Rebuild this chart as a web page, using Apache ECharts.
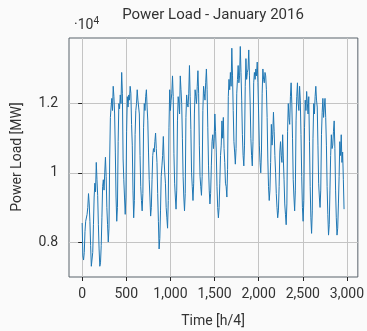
<!DOCTYPE html>
<html>
<head>
<meta charset="utf-8">
<script src="https://cdn.jsdelivr.net/npm/echarts@6/dist/echarts.min.js"></script>
<style>
  html, body { margin: 0; padding: 0; background: #fafafa; }
  #chart { width: 367px; height: 331px; }
</style>
</head>
<body>
<div id="chart"></div>
<script>
// one reading every 2 h = 8 quarter-hours, 12 per day
const stepQuarterHours = 8

// Jan 1 (holiday) - Jan 3
const loadJan01to03 = [
  8550, 7600, 7480, 7700, 8300, 8600, 8550, 8800, 9000, 9400, 9100, 8600,
  7900, 7300, 7350, 7700, 8500, 9300, 9700, 9450, 10300, 9800, 9350, 8500,
  7800, 7300, 7400, 7900, 8700, 9600, 9800, 9500, 10000, 10450, 9900, 9000
]
// Jan 4 - Jan 10
const loadJan04to10 = [
  8500, 8000, 8400, 10400, 11600, 11900, 12150, 11800, 12500, 12200, 11700, 10600,
  9300, 8600, 9000, 10900, 12000, 11850, 12250, 12000, 12900, 12300, 10400, 9800,
  9300, 8800, 9300, 11200, 12200, 11900, 12250, 12100, 12500, 12300, 11400, 10800,
  9500, 8700, 9200, 11100, 11800, 12000, 12400, 12100, 11900, 11700, 10500, 9600,
  9200, 8900, 9400, 11300, 12000, 11800, 12200, 12400, 11900, 11500, 10600, 9800,
  9300, 8750, 9000, 9800, 10500, 10700, 10600, 10900, 11150, 10700, 10300, 9400,
  8600, 7800, 8100, 8900, 9900, 10200, 10500, 11050, 10400, 10000, 9700, 9000
]
// Jan 11 - Jan 17
const loadJan11to17 = [
  8700, 8400, 9200, 11300, 12400, 11800, 12100, 12300, 12800, 12200, 10550, 9700,
  9300, 8950, 9500, 11500, 12200, 12000, 11700, 12800, 12400, 12000, 11000, 9900,
  9300, 8900, 9400, 11600, 12250, 12000, 11900, 12300, 13100, 12200, 11250, 10000,
  9600, 9200, 9700, 11700, 12400, 12200, 12000, 12500, 12950, 12300, 10800, 9900,
  9600, 9350, 9900, 11800, 12500, 12300, 12100, 12600, 13000, 12400, 11300, 10200,
  9500, 9100, 9400, 10200, 10900, 11100, 10700, 11000, 11700, 11200, 10600, 9600,
  9000, 8700, 9000, 9700, 10500, 10800, 11500, 11000, 11600, 10700, 10300, 9700
]
// Jan 18 - Jan 24
const loadJan18to24 = [
  9600, 9300, 10100, 12200, 12700, 12400, 12900, 12500, 13600, 12800, 11800, 10900,
  10600, 10250, 10700, 12300, 12700, 13100, 12600, 12800, 13650, 12900, 12100, 11100,
  10500, 10200, 10800, 12500, 13300, 12700, 12900, 13000, 13550, 12800, 12000, 11000,
  10500, 10200, 10900, 12600, 12900, 12700, 13000, 12800, 13200, 12600, 11700, 10800,
  10300, 10000, 10600, 12300, 13000, 12700, 12600, 12900, 12800, 12400, 11600, 10400,
  9600, 9200, 9500, 10300, 11400, 10800, 11100, 11750, 11200, 10500, 10000, 9400,
  9000, 8700, 8900, 9600, 10600, 10900, 10500, 10300, 11100, 10400, 9800, 9100
]
// Jan 25 - Jan 31
const loadJan25to31 = [
  8800, 8500, 9100, 11200, 12000, 11600, 11400, 12200, 12600, 12000, 11000, 9800,
  9300, 8900, 9500, 11500, 12200, 12600, 12000, 11800, 12500, 12100, 11100, 9900,
  9000, 8600, 9200, 11300, 12100, 11800, 12350, 12000, 11700, 12200, 10900, 9600,
  8700, 8250, 8900, 11000, 12000, 11700, 12200, 12500, 12100, 11900, 10800, 9700,
  9300, 9000, 9500, 11100, 11750, 12150, 11600, 11900, 12150, 11600, 10800, 9600,
  8800, 8200, 8500, 9500, 10500, 11100, 10700, 10800, 11200, 11500, 10700, 9500,
  8700, 8200, 8400, 9100, 9900, 10900, 10500, 11100, 10300, 10600, 9800, 8950
]

const xTicks = [0, 500, 1000, 1500, 2000, 2500, 3000]
const yTicks = [8000, 10000, 12000]

const loadMW = [].concat(loadJan01to03, loadJan04to10, loadJan11to17, loadJan18to24, loadJan25to31)
const seriesData = loadMW.map((v, i) => [i * stepQuarterHours, v])

const textColor = '#333'
const fontFamily = 'Roboto'

const chart = echarts.init(document.getElementById('chart'), null, { renderer: 'canvas' })
chart.setOption({
  animation: false,
  backgroundColor: '#fafafa',
  grid: {
    left: 69, right: 9, top: 38, bottom: 54,
    show: true,
    borderColor: '#59626a',
    borderWidth: 1,
    backgroundColor: 'transparent'
  },
  xAxis: {
    type: 'value',
    min: -149,
    max: 3124,
    minInterval: 500,
    maxInterval: 500,
    axisLine: { show: false },
    axisTick: { show: true, customValues: xTicks, length: 4, lineStyle: { color: '#222' } },
    axisLabel: {
      customValues: xTicks,
      margin: 10,
      color: textColor,
      fontFamily: fontFamily,
      fontSize: 14,
      formatter: v => v.toLocaleString('en-US')
    },
    splitLine: { show: true, lineStyle: { color: '#c4c4c4', width: 1 } }
  },
  yAxis: {
    type: 'value',
    min: 6990,
    max: 13895,
    minInterval: 2000,
    maxInterval: 2000,
    axisLine: { show: false },
    axisTick: { show: true, customValues: yTicks, length: 4, lineStyle: { color: '#222' } },
    axisLabel: {
      customValues: yTicks,
      margin: 11,
      color: textColor,
      fontFamily: fontFamily,
      fontSize: 14,
      formatter: v => String(v / 10000)
    },
    splitLine: { show: true, lineStyle: { color: '#c4c4c4', width: 1 } }
  },
  graphic: [
    {
      type: 'text', x: 213, y: 15,
      style: {
        text: 'Power Load - January 2016', fill: textColor,
        font: '15px Roboto', align: 'center', verticalAlign: 'middle'
      }
    },
    {
      type: 'text', x: 213, y: 321,
      style: {
        text: 'Time [h/4]', fill: textColor,
        font: '14px Roboto', align: 'center', verticalAlign: 'middle'
      }
    },
    {
      type: 'text', x: 17, y: 157, rotation: Math.PI / 2,
      style: {
        text: 'Power Load [MW]', fill: textColor,
        font: '14px Roboto', align: 'center', verticalAlign: 'middle'
      }
    },
    {
      type: 'text', x: 74, y: 25,
      style: {
        text: '{a|·10}{b|4}', fill: textColor,
        verticalAlign: 'middle',
        rich: {
          a: { fontSize: 14, fontFamily: fontFamily, fill: textColor },
          b: { fontSize: 10, fontFamily: fontFamily, fill: textColor, padding: [0, 0, 8, 0] }
        }
      }
    }
  ],
  series: [{
    type: 'line',
    data: seriesData,
    showSymbol: false,
    lineStyle: { color: '#1f77b4', width: 1 },
    itemStyle: { color: '#1f77b4' }
  }]
})
</script>
</body>
</html>
